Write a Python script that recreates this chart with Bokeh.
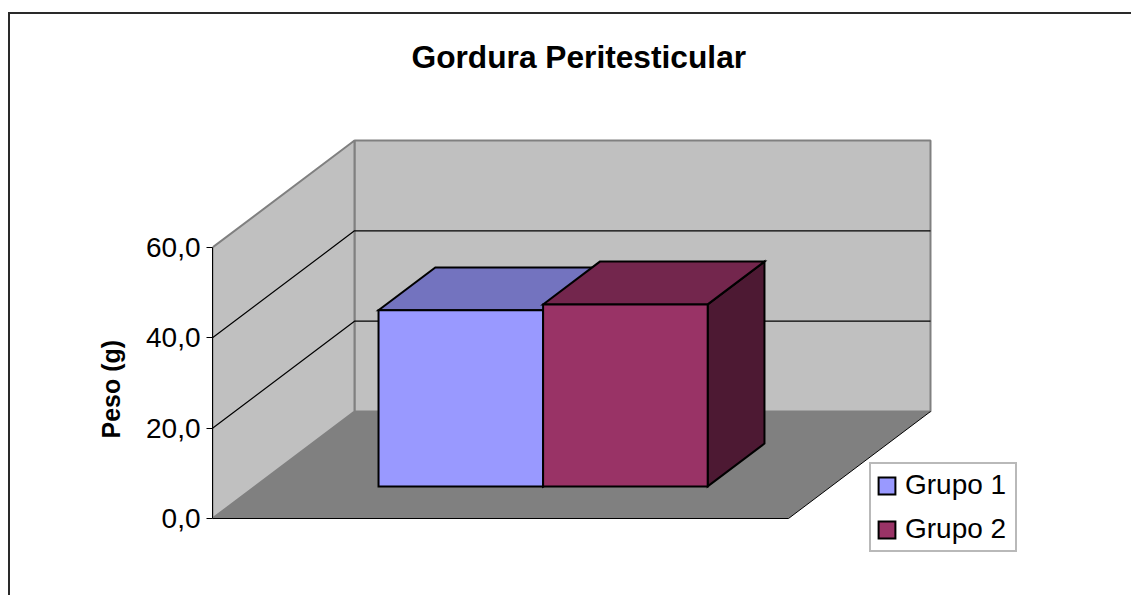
from bokeh.plotting import figure
from bokeh.models import Legend, LegendItem, FixedTicker, Title
from bokeh.embed import file_html
from bokeh.resources import INLINE

title_text = "Gordura Peritesticular"
axis_title = "Peso (g)"
series_names = ["Grupo 1", "Grupo 2"]
series_values = [39.0, 40.3]
tick_values = [0, 20, 40, 60]
tick_labels = ["0,0", "20,0", "40,0", "60,0"]
grid_values = [20, 40]
colors_front = ["#9999FF", "#993366"]
colors_top = ["#7373BF", "#73264D"]
colors_side = ["#4D4D80", "#4D1933"]

# geometry of the oblique projection, in page pixels
ORIGIN_X, ORIGIN_Y = 10, 14   # where the canvas sits on the page
FRAME_L, FRAME_T, PAGE_W, PAGE_H = 212, 80, 1133, 597
ZERO_Y = 518
PX_PER_UNIT = 271 / 60
FLOOR_W = 576
DEPTH_X, DEPTH_Y = 142, 107
DEPTH_V = DEPTH_Y / PX_PER_UNIT
Y_MAX = 60
BAR_W = FLOOR_W / 3.5
GAP = BAR_W * 0.75
D_FRONT, D_BACK = 0.3, 0.7


def pt(x, v, d):
    """Project floor position x, value v, depth fraction d to data coordinates."""
    return x + d * DEPTH_X, v + d * DEPTH_V


def poly(*pts):
    coords = [pt(*q) for q in pts]
    return [c[0] for c in coords], [c[1] for c in coords]


p = figure(
    width=PAGE_W - ORIGIN_X, height=PAGE_H - ORIGIN_Y, output_backend="svg", toolbar_location=None,
    x_range=(0, PAGE_W - FRAME_L),
    y_range=((ZERO_Y - PAGE_H) / PX_PER_UNIT, (ZERO_Y - FRAME_T) / PX_PER_UNIT),
    min_border_left=FRAME_L - ORIGIN_X, min_border_right=0,
    min_border_top=FRAME_T - ORIGIN_Y, min_border_bottom=0,
    x_axis_location=None, title=title_text,
    styles={"position": "absolute", "left": f"{ORIGIN_X}px", "top": f"{ORIGIN_Y}px",
            "box-shadow": "-2px -2px 0 0 #2a2a2a"},
)
p.outline_line_color = None
p.grid.visible = False
p.title.align = "left"
p.title.offset = 411 - FRAME_L
p.title.text_font = "Liberation Sans"
p.title.text_font_size = "31.7px"
p.title.text_font_style = "bold"
p.title.text_color = "black"
p.title.standoff = 11

ax = p.yaxis[0]
ax.bounds = (0, Y_MAX)
ax.ticker = FixedTicker(ticks=tick_values)
ax.major_label_overrides = dict(zip(tick_values, tick_labels))
ax.major_label_text_font = "Liberation Sans"
ax.major_label_text_font_size = "28px"
ax.major_label_text_color = "black"
ax.major_label_standoff = 6
ax.major_tick_in = 0
ax.major_tick_out = 6
ax.minor_tick_out = 0
ax.minor_tick_in = 0
ax.major_tick_line_color = "black"
ax.axis_line_color = "black"

p.add_layout(Title(
    text=axis_title, align="left", offset=PAGE_H - 438, standoff=38,
    text_font="Liberation Sans", text_font_size="25px", text_font_style="bold", text_color="black",
), "left")

# walls and floor
wall = dict(fill_color="#C0C0C0", line_color="#808080", line_width=2)
xs, ys = poly((0, 0, 1), (FLOOR_W, 0, 1), (FLOOR_W, Y_MAX, 1), (0, Y_MAX, 1))
p.patch(xs, ys, **wall)
xs, ys = poly((0, 0, 0), (0, 0, 1), (0, Y_MAX, 1), (0, Y_MAX, 0))
p.patch(xs, ys, **wall)
xs, ys = poly((0, 0, 0), (FLOOR_W, 0, 0), (FLOOR_W, 0, 1), (0, 0, 1))
p.patch(xs, ys, fill_color="#808080", line_color=None)
xs, ys = poly((0, 0, 0), (FLOOR_W, 0, 0), (FLOOR_W, 0, 1))
p.line(xs, ys, line_color="black", line_width=1)

for g in grid_values:
    xs, ys = poly((0, g, 0), (0, g, 1), (FLOOR_W, g, 1))
    p.line(xs, ys, line_color="black", line_width=1.2)

# bars
items = []
edge = dict(line_color="black", line_width=2, line_join="miter")
for i, (name, val) in enumerate(zip(series_names, series_values)):
    x0, x1 = GAP + i * BAR_W, GAP + (i + 1) * BAR_W
    xs, ys = poly((x1, 0, D_FRONT), (x1, 0, D_BACK), (x1, val, D_BACK), (x1, val, D_FRONT))
    p.patch(xs, ys, fill_color=colors_side[i], **edge)
    xs, ys = poly((x0, val, D_FRONT), (x1, val, D_FRONT), (x1, val, D_BACK), (x0, val, D_BACK))
    p.patch(xs, ys, fill_color=colors_top[i], **edge)
    lx, by = pt(x0, 0, D_FRONT)
    rx, ty = pt(x1, val, D_FRONT)
    r = p.quad(left=[lx], right=[rx], bottom=[by], top=[ty], fill_color=colors_front[i], **edge)
    items.append(LegendItem(label=name, renderers=[r]))

legend = Legend(
    items=items, location=(869 - FRAME_L, PAGE_H - 552),
    glyph_width=21, glyph_height=21, label_standoff=8, label_width=105, padding=5, spacing=12, margin=0,
    label_text_font="Liberation Sans", label_text_font_size="28px", label_text_color="black",
    border_line_color="#747474", border_line_width=2, background_fill_color="white",
    background_fill_alpha=1,
)
p.add_layout(legend, "center")

open("out.html", "w").write(file_html(p, INLINE))
